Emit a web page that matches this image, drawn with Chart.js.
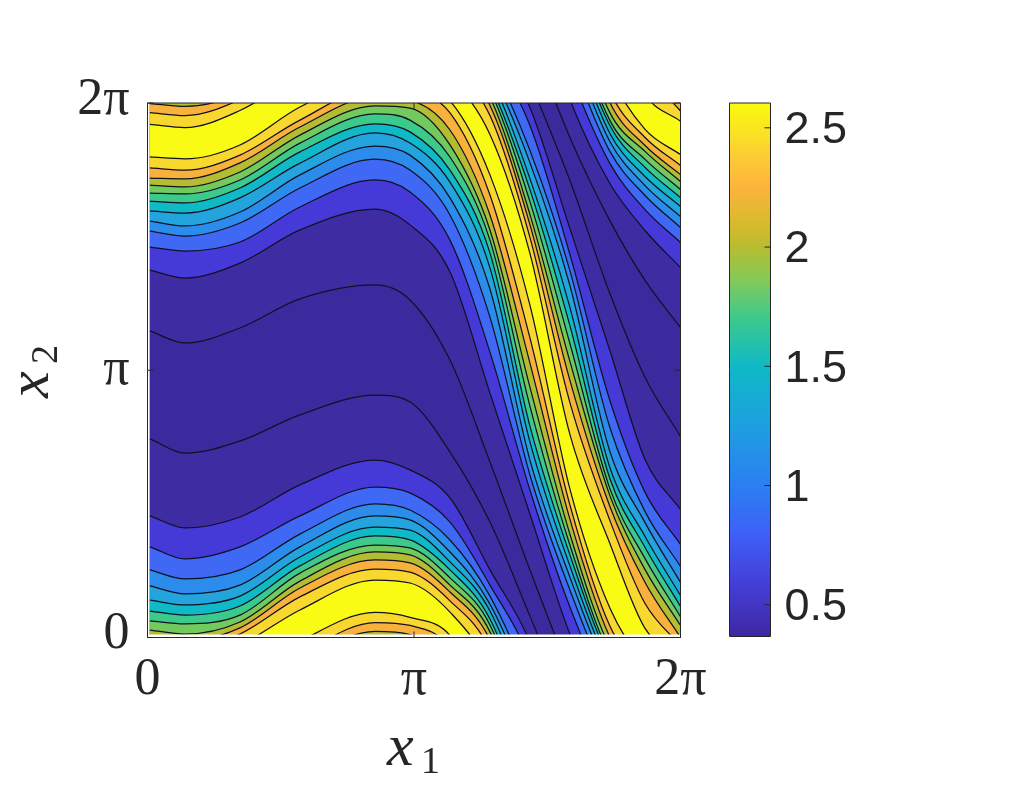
<!DOCTYPE html>
<html>
<head>
<meta charset="utf-8">
<title>Contours</title>
<script src="https://cdn.jsdelivr.net/npm/chart.js@4/dist/chart.umd.min.js"></script>
<style>
    html, body { margin: 0; background: #fff; }
    #contourWrap { position: absolute; left: 0; top: 0; width: 1025px; height: 796px; }
    #barWrap { position: absolute; left: 700px; top: 0; width: 325px; height: 796px; }
</style>
</head>
<body>
<div id="contourWrap"><canvas id="contourChart"></canvas></div>
<div id="barWrap"><canvas id="barChart"></canvas></div>
<script>
// all coordinates are in units of pi
const x1Samples = [0.009, 0.141, 0.347, 0.572, 0.854, 0.985, 1.135, 1.285, 1.435, 1.585, 1.735, 1.867, 2.0];

// contour levels on the rising side of the ridge, x2 at each x1 sample
const u1 = [1.147, 1.102, 1.158, 1.267, 1.319, 1.263, 1.038, 0.657, 0.253, -0.129, -0.440, -0.664, -0.840];
const u2 = [1.375, 1.345, 1.401, 1.525, 1.603, 1.544, 1.368, 0.915, 0.462, 0.013, -0.301, -0.477, -0.616];
const u3 = [1.461, 1.446, 1.480, 1.611, 1.712, 1.667, 1.487, 1.068, 0.552, 0.114, -0.226, -0.399, -0.522];
const u4 = [1.521, 1.502, 1.551, 1.682, 1.790, 1.749, 1.581, 1.199, 0.608, 0.178, -0.181, -0.346, -0.466];
const u5 = [1.558, 1.540, 1.592, 1.731, 1.839, 1.805, 1.645, 1.304, 0.664, 0.226, -0.144, -0.309, -0.425];
const u6 = [1.596, 1.588, 1.645, 1.775, 1.888, 1.850, 1.704, 1.383, 0.732, 0.268, -0.114, -0.275, -0.387];
const u7 = [1.633, 1.626, 1.682, 1.817, 1.922, 1.892, 1.749, 1.439, 0.791, 0.309, -0.084, -0.241, -0.354];
const u8 = [1.663, 1.660, 1.712, 1.850, 1.959, 1.936, 1.798, 1.487, 0.866, 0.346, -0.065, -0.211, -0.324];
const u9 = [1.693, 1.686, 1.742, 1.880, 1.989, 1.981, 1.843, 1.525, 0.937, 0.387, -0.036, -0.181, -0.294];
const u10 = [1.719, 1.716, 1.776, 1.910, 2.023, 2.011, 1.899, 1.581, 1.027, 0.443, 0.002, -0.159, -0.268];
const u11 = [1.757, 1.749, 1.805, 1.936, 2.056, 2.045, 1.963, 1.656, 1.121, 0.496, 0.043, -0.129, -0.234];
const u12 = [1.798, 1.791, 1.843, 1.985, 2.094, 2.075, 2.008, 1.731, 1.244, 0.556, 0.110, -0.099, -0.193];

// same levels on the falling side
const d1 = [0.743, 0.690, 0.735, 0.833, 0.907, 0.881, 0.694, 0.432, 0.080, -0.290, -0.713, -1.027, -1.248];
const d2 = [0.455, 0.410, 0.451, 0.571, 0.664, 0.627, 0.522, 0.253, -0.017, -0.470, -0.926, -1.334, -1.521];
const d3 = [0.339, 0.294, 0.339, 0.455, 0.563, 0.541, 0.432, 0.196, -0.084, -0.567, -1.113, -1.457, -1.652];
const d4 = [0.253, 0.219, 0.253, 0.387, 0.500, 0.477, 0.365, 0.155, -0.178, -0.627, -1.214, -1.529, -1.734];
const d5 = [0.193, 0.163, 0.196, 0.339, 0.455, 0.440, 0.320, 0.125, -0.223, -0.683, -1.304, -1.570, -1.794];
const d6 = [0.140, 0.122, 0.155, 0.301, 0.413, 0.402, 0.283, 0.099, -0.283, -0.765, -1.364, -1.622, -1.843];
const d7 = [0.099, 0.084, 0.118, 0.268, 0.380, 0.365, 0.253, 0.069, -0.324, -0.833, -1.405, -1.663, -1.884];
const d8 = [0.062, 0.051, 0.084, 0.241, 0.346, 0.335, 0.223, 0.047, -0.369, -0.900, -1.443, -1.705, -1.922];
const d9 = [0.028, 0.013, 0.058, 0.211, 0.320, 0.309, 0.196, 0.021, -0.417, -0.967, -1.469, -1.746, -1.955];
const d10 = [-0.002, -0.013, 0.036, 0.185, 0.290, 0.279, 0.170, -0.009, -0.455, -1.038, -1.510, -1.794, -2.000];
const d11 = [-0.036, -0.047, 0.013, 0.152, 0.256, 0.245, 0.137, -0.047, -0.503, -1.121, -1.562, -1.873, -2.030];
const d12 = [-0.080, -0.092, -0.028, 0.103, 0.215, 0.204, 0.095, -0.118, -0.563, -1.240, -1.648, -1.966, -2.068];

const risingLevels = [u1, u2, u3, u4, u5, u6, u7, u8, u9, u10, u11, u12];
const fallingLevels = [d1, d2, d3, d4, d5, d6, d7, d8, d9, d10, d11, d12];

// fill colour of each band, lowest value first
const bandColors = ["#3b2a9d", "#3d2ca2", "#4539d8", "#3f68f5", "#2c8cec", "#24a4dc", "#0fb9c6",
    "#3cc98c", "#72ca5e", "#b4bd32", "#f8b23c", "#f8d82e", "#f9fb14"];

// the field repeats every 2 pi in x2
const periodShifts = [4, 2, 0, -2];

const xTickValues = [0, 1, 2];
const yTickValues = [0, 1, 2];
const piTickLabels = ["0", "\u03c0", "2\u03c0"];

// colorbar
const barRange = [0.367, 2.604];
const barTickValues = [0.5, 1, 1.5, 2, 2.5];
const barStopValues = [0.367, 0.45, 0.6, 0.8, 1, 1.25, 1.5, 1.7, 1.86, 2, 2.1, 2.25, 2.35, 2.45, 2.604];
const barStopColors = ["#3e26a0", "#4130b8", "#4440d8", "#3e60f8", "#2b7ff2", "#1e9fe0", "#0fb9c6", "#3cc98c",
    "#82ca5a", "#b8bc30", "#d8ba2c", "#fcb43c", "#fec538", "#fbdc28", "#f9fb0e"];

const inkColor = "#262626";
const contourColor = "#111122";
const serif = "'Liberation Serif', serif";

function levelDataset(values, shift, color) {
    return {
        data: values.map((v, i) => ({ x: x1Samples[i], y: v + shift })),
        showLine: true,
        fill: "start",
        backgroundColor: color,
        borderColor: contourColor,
        borderWidth: 1.25,
        pointRadius: 0,
        cubicInterpolationMode: "monotone",
        capBezierPoints: false,
        clip: 0
    };
}

// each level fills everything under it, so the stack is painted from the top down
const painted = [];
periodShifts.forEach(shift => {
    for (let i = risingLevels.length - 1; i >= 0; i--) {
        painted.push(levelDataset(risingLevels[i], shift, bandColors[i]));
    }
    fallingLevels.forEach((values, i) => {
        painted.push(levelDataset(values, shift, bandColors[i + 1]));
    });
});

// thin unfilled strip along the lower axis
painted.push({
    data: [{ x: 0, y: 0.011 }, { x: 2, y: 0.011 }],
    showLine: true,
    fill: "start",
    backgroundColor: "#fff",
    borderWidth: 0,
    pointRadius: 0,
    clip: 0
});

// box and inward ticks on top of the filled bands
const frame = {
    id: "frame",
    afterDatasetsDraw(chart, args, opts) {
        const { ctx, chartArea: a, scales } = chart;
        ctx.save();
        ctx.strokeStyle = inkColor;
        ctx.lineWidth = 1;
        ctx.beginPath();
        ctx.rect(a.left, a.top, a.right - a.left, a.bottom - a.top);
        if (opts.xTicks) {
            opts.xTicks.forEach(v => {
                const px = scales.x.getPixelForValue(v);
                ctx.moveTo(px, a.bottom); ctx.lineTo(px, a.bottom - 6);
                ctx.moveTo(px, a.top); ctx.lineTo(px, a.top + 6);
            });
        }
        opts.yTicks.forEach(v => {
            const py = scales.y.getPixelForValue(v);
            ctx.moveTo(a.right, py); ctx.lineTo(a.right - 6, py);
            if (opts.leftTicks) {
                ctx.moveTo(a.left, py); ctx.lineTo(a.left + 6, py);
            }
        });
        ctx.stroke();
        ctx.restore();
    }
};

// axis titles with subscripts
const axisTitles = {
    id: "axisTitles",
    afterDraw(chart) {
        const { ctx } = chart;
        ctx.save();
        ctx.fillStyle = inkColor;
        ctx.textBaseline = "alphabetic";
        ctx.font = "italic 60px " + serif;
        ctx.fillText("x", 387, 765);
        ctx.font = "38px " + serif;
        ctx.fillText("1", 421, 773);
        ctx.translate(48, 398);
        ctx.rotate(-Math.PI / 2);
        ctx.font = "italic 60px " + serif;
        ctx.fillText("x", 0, 0);
        ctx.font = "38px " + serif;
        ctx.fillText("2", 34, 9);
        ctx.restore();
    }
};

new Chart(document.getElementById("contourChart"), {
    type: "scatter",
    data: { datasets: painted.reverse() },
    plugins: [frame, axisTitles],
    options: {
        responsive: true,
        maintainAspectRatio: false,
        animation: false,
        events: [],
        elements: { line: { capBezierPoints: false } },
        layout: { padding: { left: 0, top: 103, right: 344.5, bottom: 0 } },
        plugins: {
            legend: { display: false },
            tooltip: { enabled: false },
            frame: { xTicks: xTickValues, yTicks: yTickValues, leftTicks: true }
        },
        scales: {
            x: {
                type: "linear",
                min: 0,
                max: 2,
                afterFit: s => { s.height = 158.5; },
                afterBuildTicks: s => { s.ticks = xTickValues.map(value => ({ value })); },
                grid: { display: false, drawTicks: false },
                border: { display: false },
                ticks: {
                    autoSkip: false,
                    maxRotation: 0,
                    padding: 12,
                    color: inkColor,
                    font: { family: serif, size: 52 },
                    callback: v => piTickLabels[xTickValues.indexOf(v)]
                }
            },
            y: {
                type: "linear",
                min: 0,
                max: 2,
                afterFit: s => { s.width = 147.5; },
                afterBuildTicks: s => { s.ticks = yTickValues.map(value => ({ value })); },
                grid: { display: false, drawTicks: false },
                border: { display: false },
                ticks: {
                    autoSkip: false,
                    padding: 18,
                    color: inkColor,
                    // tight line height with a blank second line lifts the digits a little
                    font: { family: serif, size: 52, lineHeight: 0.115 },
                    callback: v => v === 1 ? piTickLabels[1] : [piTickLabels[yTickValues.indexOf(v)], ""]
                }
            }
        }
    }
});

// colorbar, one floating bar with the colormap as a gradient
new Chart(document.getElementById("barChart"), {
    type: "bar",
    data: {
        labels: [""],
        datasets: [{
            data: [barRange],
            barPercentage: 1,
            categoryPercentage: 1,
            borderWidth: 0,
            backgroundColor: ctx => {
                const { chartArea } = ctx.chart;
                if (!chartArea) return barStopColors[0];
                const g = ctx.chart.ctx.createLinearGradient(0, chartArea.bottom, 0, chartArea.top);
                barStopValues.forEach((v, i) => {
                    g.addColorStop((v - barRange[0]) / (barRange[1] - barRange[0]), barStopColors[i]);
                });
                return g;
            }
        }]
    },
    plugins: [frame],
    options: {
        responsive: true,
        maintainAspectRatio: false,
        animation: false,
        events: [],
        layout: { padding: { left: 29.5, top: 103, right: 0, bottom: 159.5 } },
        plugins: {
            legend: { display: false },
            tooltip: { enabled: false },
            frame: { yTicks: barTickValues, leftTicks: false }
        },
        scales: {
            x: {
                display: false
            },
            y: {
                position: "right",
                min: barRange[0],
                max: barRange[1],
                afterFit: s => { s.width = 254.5; },
                afterBuildTicks: s => { s.ticks = barTickValues.map(value => ({ value })); },
                grid: { display: false, drawTicks: false },
                border: { display: false },
                ticks: {
                    autoSkip: false,
                    padding: 14,
                    color: inkColor,
                    // blank first line drops the digits onto the tick
                    font: { family: "'Liberation Sans', sans-serif", size: 45, lineHeight: 0.133 },
                    callback: v => ["", String(v)]
                }
            }
        }
    }
});
</script>
</body>
</html>
